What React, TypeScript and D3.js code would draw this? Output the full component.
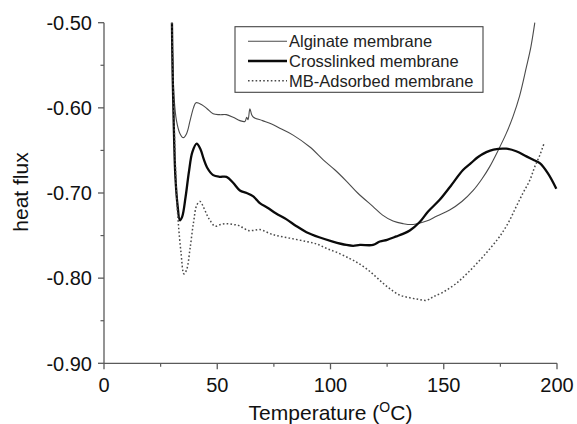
import React from "react";
import * as d3 from "d3";

const xTicks = [0, 50, 100, 150, 200];
const xMinorTicks = [25, 75, 125, 175];
const yTicks = [-0.5, -0.6, -0.7, -0.8, -0.9];
const yMinorTicks = [-0.55, -0.65, -0.75, -0.85];

const alginateT = [30, 30.4, 31, 32, 33.5, 35, 36.5, 38, 39.5, 40.6, 43, 45.5, 48.2, 51, 54, 57, 60, 62.2, 63, 63.6, 64.4, 65.2, 66, 70, 74, 77.6, 83.5, 90.9, 96.8, 102, 107, 112, 118.8, 123, 127.6, 132, 136.5, 142.4, 147, 152.6, 158, 163, 167, 170.3, 174, 177.6, 180.6, 183.5, 186.5, 188.5, 190.2];
const alginateV = [-0.50, -0.55, -0.59, -0.615, -0.63, -0.635, -0.63, -0.615, -0.60, -0.594, -0.596, -0.601, -0.607, -0.608, -0.608, -0.611, -0.615, -0.616, -0.611, -0.614, -0.601, -0.608, -0.611, -0.615, -0.619, -0.624, -0.632, -0.646, -0.661, -0.673, -0.686, -0.700, -0.716, -0.726, -0.733, -0.736, -0.737, -0.733, -0.727, -0.720, -0.710, -0.697, -0.683, -0.669, -0.650, -0.630, -0.610, -0.586, -0.552, -0.528, -0.50];

const crossT = [30, 30.3, 30.8, 31.5, 32.5, 33.5, 34.5, 36, 37.5, 39, 40.9, 42.5, 44, 45.5, 48.2, 51, 54.1, 57, 60, 63, 65.9, 68.8, 72, 76, 80.6, 85, 89.4, 95, 101, 107, 110, 113, 118.8, 121.8, 125, 129.1, 132, 135, 139.4, 143, 148.2, 153, 158.5, 162, 165, 168.8, 172, 177.6, 182, 186.5, 189.5, 192.4, 196, 199.7];
const crossV = [-0.50, -0.56, -0.62, -0.68, -0.715, -0.732, -0.728, -0.705, -0.675, -0.652, -0.642, -0.648, -0.660, -0.670, -0.679, -0.681, -0.681, -0.688, -0.697, -0.700, -0.704, -0.712, -0.717, -0.724, -0.731, -0.739, -0.746, -0.752, -0.757, -0.761, -0.762, -0.761, -0.761, -0.757, -0.755, -0.751, -0.748, -0.744, -0.734, -0.722, -0.708, -0.692, -0.673, -0.665, -0.658, -0.652, -0.649, -0.648, -0.651, -0.657, -0.661, -0.665, -0.677, -0.695];

const mbT = [30, 30.5, 31.2, 32, 32.8, 34, 35.3, 36.5, 38, 39.5, 41, 42.4, 44, 45.5, 46.8, 49, 51.5, 54.1, 57, 59.3, 61.5, 63.7, 66, 68.8, 74.7, 82, 89.4, 94, 98.2, 103, 108.5, 112, 115.9, 119.5, 123.2, 126.5, 130.6, 135, 139, 142.4, 145.3, 150, 155.6, 160.5, 165.9, 170.5, 174.7, 178.5, 182, 185, 188, 190.2, 192.5, 194.5];
const mbV = [-0.50, -0.57, -0.64, -0.70, -0.735, -0.77, -0.795, -0.79, -0.765, -0.735, -0.714, -0.710, -0.717, -0.726, -0.732, -0.739, -0.737, -0.736, -0.737, -0.738, -0.741, -0.744, -0.744, -0.743, -0.749, -0.753, -0.757, -0.760, -0.765, -0.770, -0.777, -0.782, -0.789, -0.797, -0.806, -0.813, -0.820, -0.823, -0.825, -0.826, -0.822, -0.816, -0.806, -0.794, -0.779, -0.765, -0.751, -0.735, -0.716, -0.700, -0.685, -0.669, -0.655, -0.640];

const seriesNames = ["Alginate membrane", "Crosslinked membrane", "MB-Adsorbed membrane"];

const W = 577;
const H = 424;
const margin = { left: 104, right: 20, top: 22.7, bottom: 60.7 };
const font = "'Liberation Sans', Arial, sans-serif";
const axisColor = "#5a5a5a";

export default function App() {
  const x = d3.scaleLinear().domain([0, 200]).range([margin.left, W - margin.right]);
  const y = d3.scaleLinear().domain([-0.9, -0.5]).range([H - margin.bottom, margin.top]);

  const mk = (T: number[], V: number[]) =>
    d3
      .line<number>()
      .x((_, i) => x(T[i]))
      .y((v) => y(v))
      .curve(d3.curveCatmullRom.alpha(0.5))(V) || "";

  const styles = [
    { stroke: "#4a4a4a", width: 1.1, dash: undefined as string | undefined },
    { stroke: "#0a0a0a", width: 2.3, dash: undefined as string | undefined },
    { stroke: "#4a4a4a", width: 1.5, dash: "1.6,2.2" },
  ];
  const paths = [mk(alginateT, alginateV), mk(crossT, crossV), mk(mbT, mbV)];

  const x0 = x(0);
  const y0 = y(-0.9);

  return (
    <div style={{ position: "absolute", left: 0, top: 0 }}>
      <svg width={W} height={H} style={{ display: "block", background: "#fff" }}>
        <rect x={0} y={0} width={W} height={H} fill="#fff" />
        {/* curves */}
        {paths.map((d, i) => (
          <path
            key={i}
            d={d}
            fill="none"
            stroke={styles[i].stroke}
            strokeWidth={styles[i].width}
            strokeDasharray={styles[i].dash}
            strokeLinejoin="round"
          />
        ))}
        {/* y axis */}
        <line x1={x0} x2={x0} y1={y(-0.5)} y2={y0} stroke={axisColor} strokeWidth={1.3} />
        {yTicks.map((t) => (
          <g key={"yt" + t}>
            <line x1={x0 - 6} x2={x0} y1={y(t)} y2={y(t)} stroke={axisColor} strokeWidth={1.3} />
            <text
              x={x0 - 12}
              y={y(t)}
              dy="0.36em"
              textAnchor="end"
              fontFamily={font}
              fontSize={20}
              fill="#111"
            >
              {t.toFixed(2)}
            </text>
          </g>
        ))}
        {yMinorTicks.map((t) => (
          <line key={"ym" + t} x1={x0 - 3.5} x2={x0} y1={y(t)} y2={y(t)} stroke={axisColor} strokeWidth={1.2} />
        ))}
        {/* x axis */}
        <line x1={x0} x2={x(200)} y1={y0} y2={y0} stroke={axisColor} strokeWidth={1.3} />
        {xTicks.map((t) => (
          <g key={"xt" + t}>
            <line x1={x(t)} x2={x(t)} y1={y0} y2={y0 + 6} stroke={axisColor} strokeWidth={1.3} />
            <text
              x={x(t)}
              y={y0 + 29}
              textAnchor="middle"
              fontFamily={font}
              fontSize={20}
              fill="#111"
            >
              {t}
            </text>
          </g>
        ))}
        {xMinorTicks.map((t) => (
          <line key={"xm" + t} x1={x(t)} x2={x(t)} y1={y0} y2={y0 + 3.5} stroke={axisColor} strokeWidth={1.2} />
        ))}
        {/* axis titles */}
        <text
          transform={`translate(28,192) rotate(-90)`}
          textAnchor="middle"
          fontFamily={font}
          fontSize={21}
          fill="#111"
        >
          heat flux
        </text>
        <text x={(x0 + x(200)) / 2} y={420} textAnchor="middle" fontFamily={font} fontSize={21} fill="#111">
          Temperature (
          <tspan fontSize={14} dy={-8}>O</tspan>
          <tspan dy={8}>C)</tspan>
        </text>
        {/* legend */}
        <rect x={235} y={26.7} width={248} height={65.6} fill="#fff" stroke="#444" strokeWidth={1.1} />
        {seriesNames.map((name, i) => (
          <g key={name}>
            <line
              x1={248}
              x2={287}
              y1={41.3 + i * 19.7}
              y2={41.3 + i * 19.7}
              stroke={styles[i].stroke}
              strokeWidth={styles[i].width}
              strokeDasharray={styles[i].dash}
            />
            <text x={289} y={46.8 + i * 20} fontFamily={font} fontSize={16.5} fill="#222">
              {name}
            </text>
          </g>
        ))}
      </svg>
    </div>
  );
}
